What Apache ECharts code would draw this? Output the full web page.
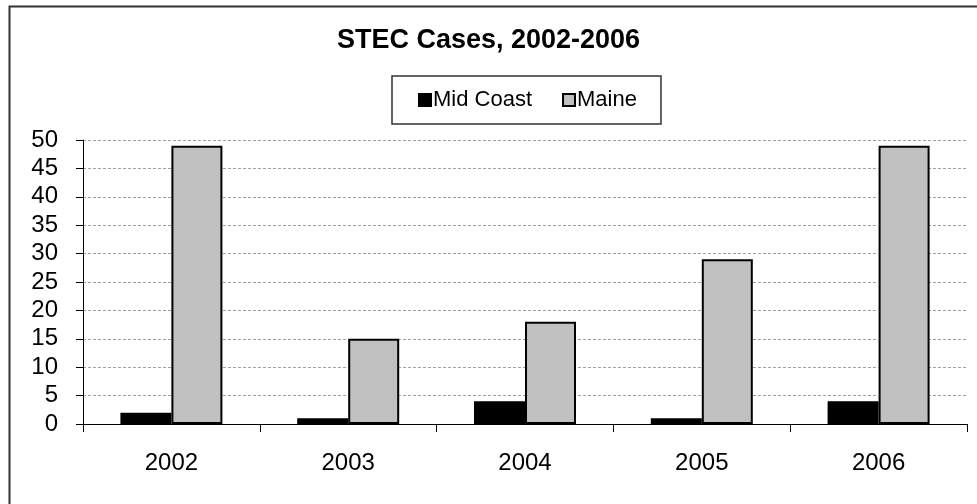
<!DOCTYPE html>
<html>
<head>
<meta charset="utf-8">
<script src="https://cdn.jsdelivr.net/npm/echarts@6/dist/echarts.min.js"></script>
<style>
  html, body { margin: 0; padding: 0; background: #fff; }
  #chart { width: 977px; height: 504px; }
</style>
</head>
<body>
<div id="chart"></div>
<script>
const years = ['2002', '2003', '2004', '2005', '2006'];
const midCoast = [2, 1, 4, 1, 4];
const maine = [49, 15, 18, 29, 49];

const myChart = echarts.init(document.getElementById('chart'));

const option = {
  backgroundColor: '#fff',
  animation: false,
  textStyle: { fontFamily: 'Liberation Sans, Arial, sans-serif' },
  graphic: [
    {
      type: 'rect',
      shape: { x: 9.5, y: 6.5, width: 1000, height: 600 },
      style: { fill: 'none', stroke: '#333', lineWidth: 2 }
    }
  ],
  title: {
    text: 'STEC Cases, 2002-2006',
    left: 'center',
    top: 22,
    textStyle: { fontSize: 27, fontWeight: 'bold', color: '#000' }
  },
  legend: {
    data: ['Mid Coast', 'Maine'],
    left: 392,
    top: 76,
    padding: [13, 24, 13, 26],
    borderColor: '#333',
    borderWidth: 1.5,
    itemWidth: 12,
    itemHeight: 12,
    itemGap: 30,
    icon: 'rect',
    textStyle: { fontSize: 22, color: '#000', padding: [0, 0, 0, -3] }
  },
  grid: { left: 83, right: 10, top: 140, bottom: 80 },
  xAxis: {
    type: 'category',
    data: years,
    axisLine: { lineStyle: { color: '#000', width: 1 } },
    axisTick: { show: true, length: 8, lineStyle: { color: '#000' } },
    axisLabel: { fontSize: 24, color: '#000', margin: 27 }
  },
  yAxis: {
    type: 'value',
    min: 0,
    max: 50,
    interval: 5,
    axisLine: { show: true, lineStyle: { color: '#000', width: 1 } },
    axisTick: { show: true, length: 7, lineStyle: { color: '#000' } },
    axisLabel: { fontSize: 24, color: '#000', margin: 25 },
    splitLine: { lineStyle: { color: '#a0a0a0', type: [3, 2] } }
  },
  series: [
    {
      name: 'Mid Coast',
      type: 'bar',
      data: midCoast,
      barWidth: 51,
      barGap: 0,
      itemStyle: { color: '#000', borderColor: '#000', borderWidth: 2 }
    },
    {
      name: 'Maine',
      type: 'bar',
      data: maine,
      barWidth: 51,
      barGap: 0,
      itemStyle: { color: '#c0c0c0', borderColor: '#000', borderWidth: 2 }
    }
  ]
};

myChart.setOption(option);

window.addEventListener('resize', function () {
  myChart.resize();
});
</script>
</body>
</html>
